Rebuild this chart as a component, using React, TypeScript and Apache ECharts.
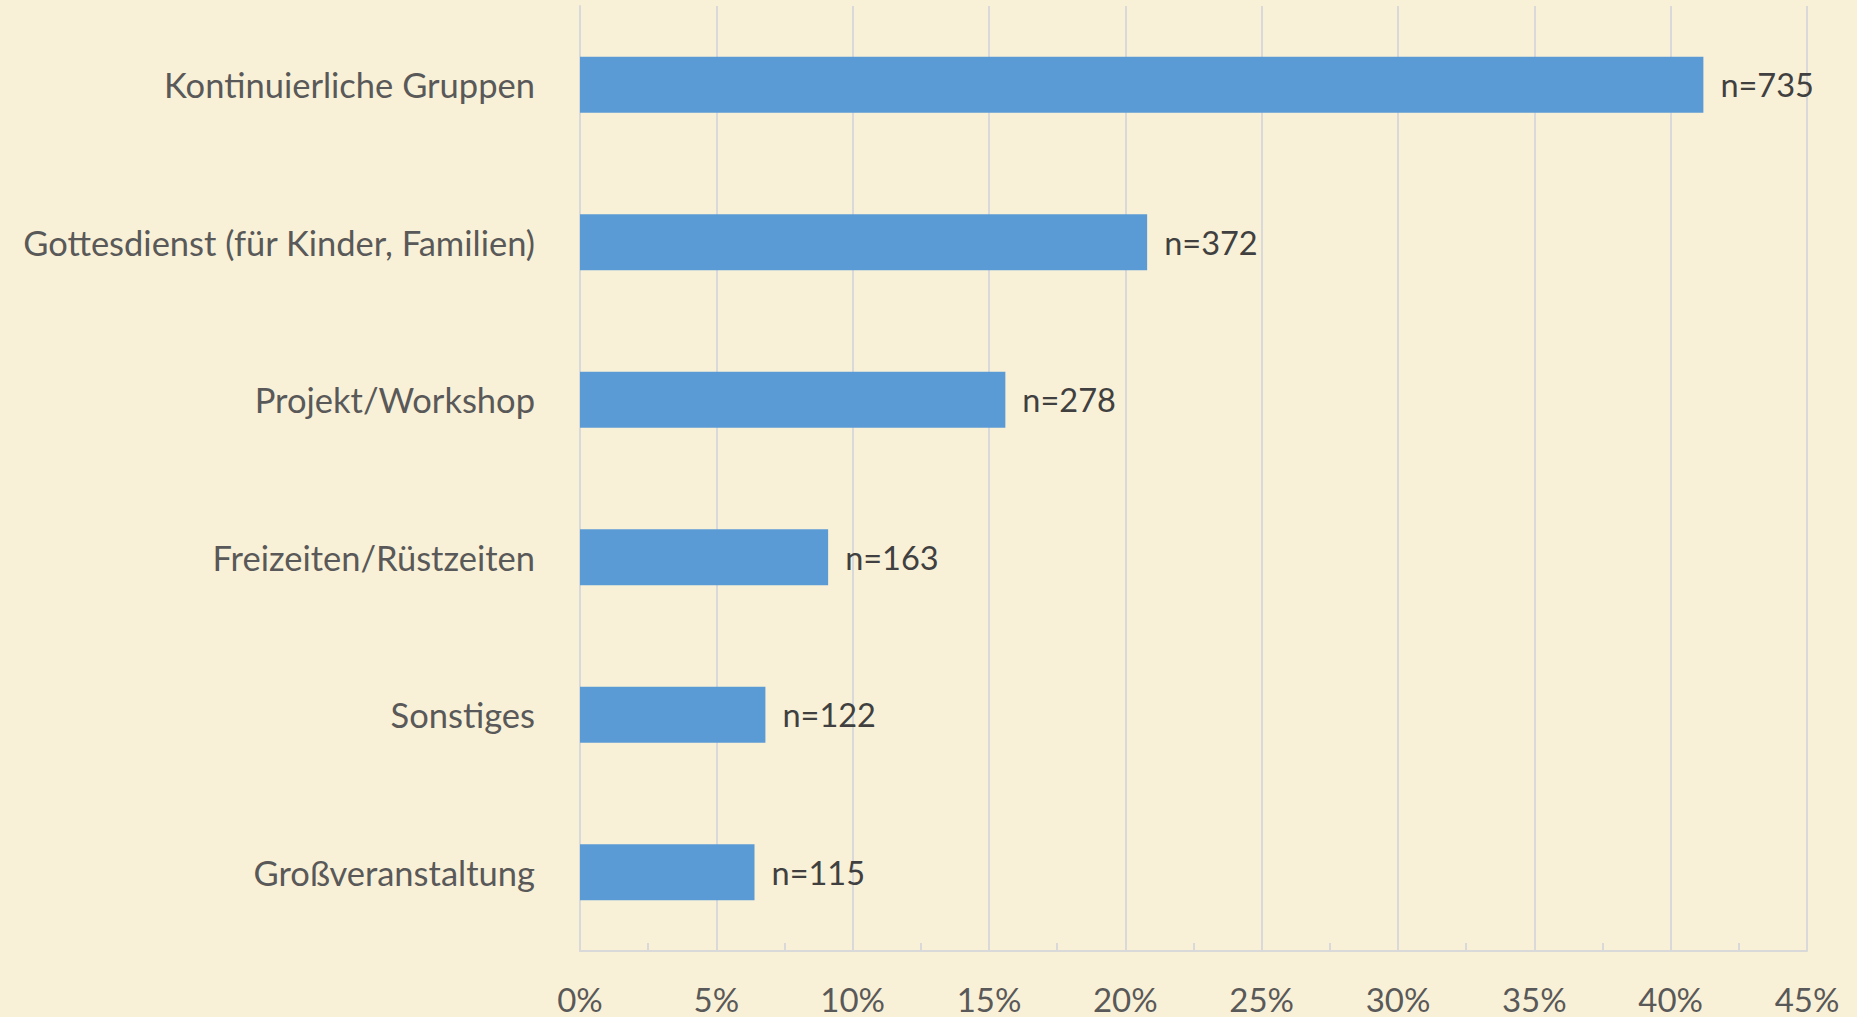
import React, { useEffect, useRef } from "react";
import * as echarts from "echarts";

const categories = [
  "Kontinuierliche Gruppen",
  "Gottesdienst (für Kinder, Familien)",
  "Projekt/Workshop",
  "Freizeiten/Rüstzeiten",
  "Sonstiges",
  "Großveranstaltung",
];
const percentValues = [41.2, 20.8, 15.6, 9.1, 6.8, 6.4];
const counts = [735, 372, 278, 163, 122, 115];
const axisMin = 0;
const axisMax = 45;
const axisStep = 5;

const FONT = "Lato";

export default function App() {
  const ref = useRef<HTMLDivElement>(null);
  useEffect(() => {
    if (!ref.current) return;
    const chart = echarts.init(ref.current, undefined, { renderer: "svg" });
    chart.setOption({
      animation: false,
      backgroundColor: "#F9F1D7",
      grid: { left: 580, right: 50, top: 6, bottom: 66, containLabel: false },
      xAxis: {
        type: "value",
        min: axisMin,
        max: axisMax,
        interval: axisStep,
        axisLine: { show: true, lineStyle: { color: "#D9D9D9", width: 2 } },
        axisTick: { show: false, inside: true, length: 8 },
        minorTick: { show: true, splitNumber: 2, length: 8, lineStyle: { color: "#D9D9D9", width: 2 } },
        splitLine: { show: true, lineStyle: { color: "#D9D9D9", width: 2 } },
        axisLabel: {
          formatter: (v: number) => `${v}%`,
          color: "#595959",
          fontFamily: FONT,
          fontSize: 33,
          margin: 31,
        },
      },
      yAxis: {
        type: "category",
        data: categories,
        inverse: true,
        axisLine: { show: true, lineStyle: { color: "#D9D9D9", width: 2 } },
        axisTick: { show: false },
        axisLabel: {
          color: "#595959",
          fontFamily: FONT,
          fontSize: 34.5,
          margin: 45,
        },
      },
      series: [
        {
          type: "bar",
          data: percentValues,
          barWidth: 56,
          itemStyle: { color: "#5B9BD5" },
          label: {
            show: true,
            position: "right",
            distance: 17,
            color: "#404040",
            fontFamily: FONT,
            fontSize: 32.5,
            formatter: (p: any) => `n=${counts[p.dataIndex]}`,
          },
        },
      ],
    });
    return () => chart.dispose();
  }, []);
  return (
    <div
      ref={ref}
      style={{ position: "fixed", left: 0, top: 0, width: 1857, height: 1017 }}
    />
  );
}
